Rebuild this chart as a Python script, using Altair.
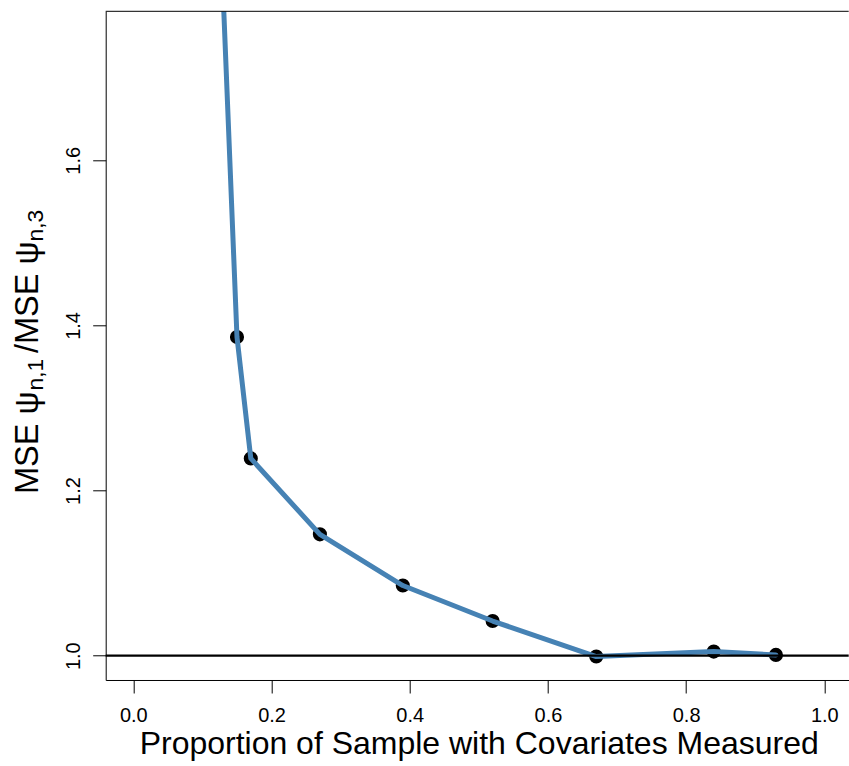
import altair as alt
import pandas as pd

# ---- data ----
prop = [0.10, 0.15, 0.17, 0.27, 0.39, 0.52, 0.67, 0.84, 0.93]
ratio = [2.42, 1.386, 1.239, 1.147, 1.085, 1.042, 0.999, 1.005, 1.001]
x_ticks = [0.0, 0.2, 0.4, 0.6, 0.8, 1.0]
y_ticks = [1.0, 1.2, 1.4, 1.6]
reference_level = 1.0
x_title = "Proportion of Sample with Covariates Measured"
y_title_parts = ["MSE ψ", "n,1", "/MSE ψ", "n,3"]

df = pd.DataFrame({"prop": prop, "ratio": ratio})

FONT = "Liberation Sans"
W = 743
H = 668.7
PAD_L = 105.7
PAD_T = 11.3

xscale = alt.Scale(domain=[-0.04, 1.0353], nice=False, zero=False)
yscale = alt.Scale(domain=[0.9706, 1.7805], nice=False, zero=False)

common_axis = dict(
    domain=True, domainColor="black", domainWidth=1,
    ticks=True, tickColor="black", tickWidth=1, tickSize=13,
    labelFont=FONT, labelFontSize=20, labelColor="black",
    labelFlush=False, labelOverlap=False, grid=False,
)

xenc = alt.X(
    "prop:Q", scale=xscale,
    axis=alt.Axis(
        values=x_ticks, format=".1f", title=x_title,
        labelBaseline="alphabetic", labelPadding=28.7,
        titleFont=FONT, titleFontSize=32, titleFontWeight="normal",
        titleColor="black", titleX=373, titleY=73.3,
        titleAlign="center", titleBaseline="alphabetic",
        **common_axis,
    ),
)
yenc = alt.Y(
    "ratio:Q", scale=yscale,
    axis=alt.Axis(
        values=y_ticks, format=".1f", title=None,
        labelAngle=270, labelAlign="center", labelBaseline="alphabetic",
        labelPadding=12.7,
        **common_axis,
    ),
)

base = alt.Chart(df)
points = base.mark_circle(size=200, color="black", opacity=1, clip=True).encode(x=xenc, y=yenc)
line = base.mark_line(
    color="#4682B4", strokeWidth=5, clip=True, strokeCap="round", strokeJoin="round"
).encode(x=xenc, y=yenc)

one = pd.DataFrame({"a": [0]})
ref = alt.Chart(one).mark_rule(color="black", strokeWidth=2.3).encode(y=alt.datum(reference_level))
top = alt.Chart(one).mark_rule(color="black", strokeWidth=1).encode(
    x=alt.value(0), x2=alt.value(W), y=alt.value(0)
)


def title_piece(txt, ax, ay, size):
    return alt.Chart(one).mark_text(
        text=txt, angle=270, align="left", baseline="alphabetic",
        font=FONT, fontSize=size, color="black",
    ).encode(x=alt.value(ax - PAD_L), y=alt.value(ay - PAD_T))


t1 = title_piece(y_title_parts[0], 38.3, 494.0, 32.5)
t2 = title_piece(y_title_parts[1], 43.3, 390.5, 22.75)
t3 = title_piece(y_title_parts[2], 38.3, 353.0, 32.5)
t4 = title_piece(y_title_parts[3], 43.3, 241.4, 22.75)

chart = alt.layer(points, line, ref, top, t1, t2, t3, t4).properties(
    width=W, height=H,
    autosize=alt.AutoSizeParams(type="none"),
    padding={"left": PAD_L, "top": PAD_T, "right": 0, "bottom": 86},
    background="white",
).configure_view(stroke=None)

chart.save("out.html", embed_options={"renderer": "svg", "actions": False})
